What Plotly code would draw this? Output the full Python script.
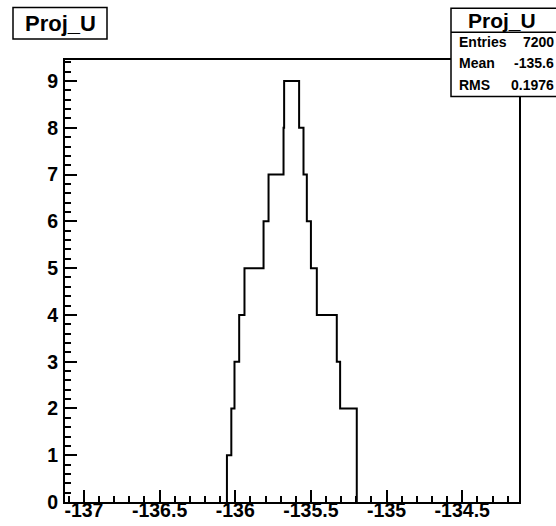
import plotly.graph_objects as go

# ---- data ----
bin_edges = [-136.055, -136.026, -136.005, -135.974, -135.939, -135.813, -135.780,
             -135.681, -135.677, -135.578, -135.549, -135.527, -135.500, -135.461,
             -135.329, -135.307, -135.197]
bin_counts = [1, 2, 3, 4, 5, 6, 7, 8, 9, 8, 7, 6, 5, 4, 3, 2]

x_tick_vals = [-137, -136.5, -136, -135.5, -135, -134.5]
x_tick_text = ["-137", "-136.5", "-136", "-135.5", "-135", "-134.5"]
y_tick_vals = [0, 1, 2, 3, 4, 5, 6, 7, 8, 9]
y_tick_text = ["0", "1", "2", "3", "4", "5", "6", "7", "8", "9"]

hist_title = "Proj_U"
stat_names = ["Entries", "Mean", "RMS"]
stat_values = ["7200", "-135.6", "0.1976"]

x_range = [-137.125, -134.125]
y_range = [0, 9.45]

# ---- layout geometry (pixels) ----
W, H = 556, 526
L, R, T, B = 65, 37, 60, 24
PW, PH = W - L - R, H - T - B


def fx(px):
    return (px - L) / PW


def fy(py):
    return (H - B - py) / PH


FONT = "Liberation Sans, Arial, Helvetica, sans-serif"

xs = [bin_edges[0]] + bin_edges
ys = [0] + bin_counts + [0]

fig = go.Figure()
fig.add_trace(go.Scatter(x=xs, y=ys, mode="lines", line=dict(shape="hv", color="black", width=2),
                         hoverinfo="skip", showlegend=False))

fig.update_layout(
    width=W, height=H,
    margin=dict(l=L, r=R, t=T, b=B, pad=0, autoexpand=False),
    paper_bgcolor="white", plot_bgcolor="white",
    showlegend=False,
    font=dict(family=FONT, color="black"),
)

fig.update_xaxes(
    range=x_range, showgrid=False, zeroline=False,
    showline=True, mirror=True, linecolor="black", linewidth=2,
    tickmode="array", tickvals=x_tick_vals, ticktext=x_tick_text,
    ticks="inside", ticklen=12, tickwidth=1.5, tickcolor="black",
    tickfont=dict(family=FONT, size=19.5, color="black", weight="bold"),
    ticklabelstandoff=-10,
    minor=dict(dtick=0.1, tick0=-137, ticks="inside", ticklen=6, tickwidth=1.5,
               tickcolor="black", showgrid=False),
)
fig.update_yaxes(
    range=y_range, showgrid=False, zeroline=False,
    showline=True, mirror=True, linecolor="black", linewidth=2,
    tickmode="array", tickvals=y_tick_vals, ticktext=y_tick_text,
    ticks="inside", ticklen=12, tickwidth=1.5, tickcolor="black",
    tickfont=dict(family=FONT, size=19.5, color="black", weight="bold"),
    ticklabelstandoff=1,
    minor=dict(dtick=0.2, tick0=0, ticks="inside", ticklen=6, tickwidth=1.5,
               tickcolor="black", showgrid=False),
)

shapes = []
# title box
shapes.append(dict(type="rect", xref="paper", yref="paper",
                   x0=fx(13), x1=fx(107), y0=fy(39), y1=fy(7.5),
                   line=dict(color="black", width=1.5), fillcolor="white", layer="above"))
# stats box
shapes.append(dict(type="rect", xref="paper", yref="paper",
                   x0=fx(451), x1=fx(600), y0=fy(96.5), y1=fy(8.3),
                   line=dict(color="black", width=1.5), fillcolor="white", layer="above"))
shapes.append(dict(type="line", xref="paper", yref="paper",
                   x0=fx(451), x1=fx(600), y0=fy(32.3), y1=fy(32.3),
                   line=dict(color="black", width=1.5), layer="above"))
fig.update_layout(shapes=shapes)

ann = []
ann.append(dict(xref="paper", yref="paper", x=fx(60), y=fy(23.5), text=hist_title,
                showarrow=False, xanchor="center", yanchor="middle",
                font=dict(family=FONT, size=22, color="black", weight="bold")))
ann.append(dict(xref="paper", yref="paper", x=fx(502), y=fy(20.5), text=hist_title,
                showarrow=False, xanchor="center", yanchor="middle",
                font=dict(family=FONT, size=21, color="black", weight="bold")))
row_y = [42, 63.5, 85]
for name, val, yy in zip(stat_names, stat_values, row_y):
    ann.append(dict(xref="paper", yref="paper", x=fx(457), y=fy(yy), text=name,
                    showarrow=False, xanchor="left", yanchor="middle",
                    font=dict(family=FONT, size=14, color="black", weight="bold")))
    ann.append(dict(xref="paper", yref="paper", x=fx(555.5), y=fy(yy), text=val,
                    showarrow=False, xanchor="right", yanchor="middle",
                    font=dict(family=FONT, size=14, color="black", weight="bold")))
fig.update_layout(annotations=ann)

fig.write_html("out.html", config={"displayModeBar": False},
               post_script="document.body.style.margin='0';document.body.style.padding='0';")
